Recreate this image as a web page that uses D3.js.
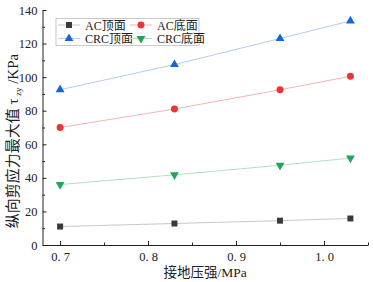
<!DOCTYPE html>
<meta charset="utf-8">
<style>
    body { margin: 0; background: #fff; }
    text { font-family: "Liberation Serif", "Noto Sans CJK SC", serif; fill: #222; }
</style>
<body>
    <script src="https://d3js.org/d3.v7.js"></script>
    <script>
        const pressure = [0.7, 0.83, 0.95, 1.03]
        const acTop = [11, 12.8, 14.5, 15.8]
        const acBottom = [70, 81, 92.5, 100.5]
        const crcTop = [92.5, 107.5, 123, 133.5]
        const crcBottom = [36, 41.8, 47.5, 51.8]
        const xTicks = [0.7, 0.8, 0.9, 1.0]
        const yTicks = [0, 20, 40, 60, 80, 100, 120, 140]

        const series = [
            { name: 'AC顶面', values: acTop, marker: '#3a3a3a', line: '#c8c8c8', shape: 'square' },
            { name: 'AC底面', values: acBottom, marker: '#ee3333', line: '#f8b4b4', shape: 'circle' },
            { name: 'CRC顶面', values: crcTop, marker: '#1464dc', line: '#b4cdf4', shape: 'up' },
            { name: 'CRC底面', values: crcBottom, marker: '#22a45a', line: '#b2e2c4', shape: 'down' }
        ]

        const w = 373
        const h = 282
        const padL = 42.5, padR = 368, padT = 10, padB = 245

        const xScale = d3.scaleLinear().domain([0.68, 1.05]).range([padL, padR])
        const yScale = d3.scaleLinear().domain([0, 140]).range([padB, padT])

        const svg = d3.select('body').append('svg')
            .attr('width', w)
            .attr('height', h)

        // axes, ticks inside
        const xAxis = d3.axisBottom(xScale).tickValues(xTicks).tickSizeInner(-4).tickSizeOuter(0)
            .tickFormat(d => d3.format('.1f')(d).replace('.', '. '))
        const xMinor = d3.axisBottom(xScale).tickValues([0.75, 0.85, 0.95, 1.05]).tickSize(-2.5).tickFormat('')
        const yAxis = d3.axisLeft(yScale).tickValues(yTicks).tickSizeInner(-4).tickSizeOuter(0)
        const yMinor = d3.axisLeft(yScale).tickValues([10, 30, 50, 70, 90, 110, 130]).tickSize(-2.5).tickFormat('')

        const gx = svg.append('g').attr('transform', 'translate(0,' + padB + ')').call(xAxis)
        svg.append('g').attr('transform', 'translate(0,' + padB + ')').call(xMinor).select('.domain').remove()
        gx.selectAll('text').attr('dy', '1em').style('font-size', '12.5px')

        const gy = svg.append('g').attr('transform', 'translate(' + padL + ',0)').call(yAxis)
        svg.append('g').attr('transform', 'translate(' + padL + ',0)').call(yMinor).select('.domain').remove()
        gy.selectAll('text').attr('x', -5).style('font-size', '12.5px')

        svg.selectAll('.domain, .tick line').attr('stroke', '#222').attr('stroke-width', 1)

        // axis titles
        svg.append('text')
            .attr('x', (padL + padR) / 2)
            .attr('y', 277)
            .attr('text-anchor', 'middle')
            .style('font-size', '13.5px')
            .text('接地压强/MPa')

        const yl = svg.append('text')
            .attr('transform', 'translate(18,141) rotate(-90)')
            .attr('text-anchor', 'middle')
            .style('font-size', '15px')
        yl.append('tspan').text('纵向剪应力最大值 τ')
        yl.append('tspan').attr('dy', 3).style('font-size', '9px').text(' zy')
        yl.append('tspan').attr('dy', -3).text(' /KPa')

        const symbolFor = s => ({
            square: d3.symbol(d3.symbolSquare, 36),
            circle: d3.symbol(d3.symbolCircle, 38),
            up: d3.symbol(d3.symbolTriangle, 34),
            down: d3.symbol(d3.symbolTriangle, 34)
        })[s]

        const line = d3.line().x((d, i) => xScale(pressure[i])).y(d => yScale(d))

        series.forEach(s => {
            svg.append('path')
                .datum(s.values)
                .attr('d', line)
                .attr('fill', 'none')
                .attr('stroke', s.line)
                .attr('stroke-width', 1)
            svg.selectAll(null)
                .data(s.values)
                .enter()
                .append('path')
                .attr('d', symbolFor(s.shape)())
                .attr('transform', (d, i) => 'translate(' + xScale(pressure[i]) + ',' + yScale(d) + ')' + (s.shape === 'down' ? ' rotate(180)' : ''))
                .attr('fill', s.marker)
        })

        // legend
        const lg = svg.append('g')
        lg.append('rect')
            .attr('x', 56).attr('y', 18.5).attr('width', 143).attr('height', 27)
            .attr('fill', '#fff').attr('stroke', '#bbb').attr('stroke-width', 0.8)
        series.forEach((s, i) => {
            const cx = i % 2 === 0 ? 58 : 130
            const cy = i < 2 ? 25 : 38.5
            lg.append('line')
                .attr('x1', cx).attr('x2', cx + 22).attr('y1', cy).attr('y2', cy)
                .attr('stroke', s.line).attr('stroke-width', 1)
            lg.append('path')
                .attr('d', symbolFor(s.shape)())
                .attr('transform', 'translate(' + (cx + 11) + ',' + cy + ')' + (s.shape === 'down' ? ' rotate(180)' : ''))
                .attr('fill', s.marker)
            lg.append('text')
                .attr('x', cx + 27).attr('y', cy + 4.5)
                .style('font-size', '12px')
                .text(s.name)
        })
    </script>
</body>
